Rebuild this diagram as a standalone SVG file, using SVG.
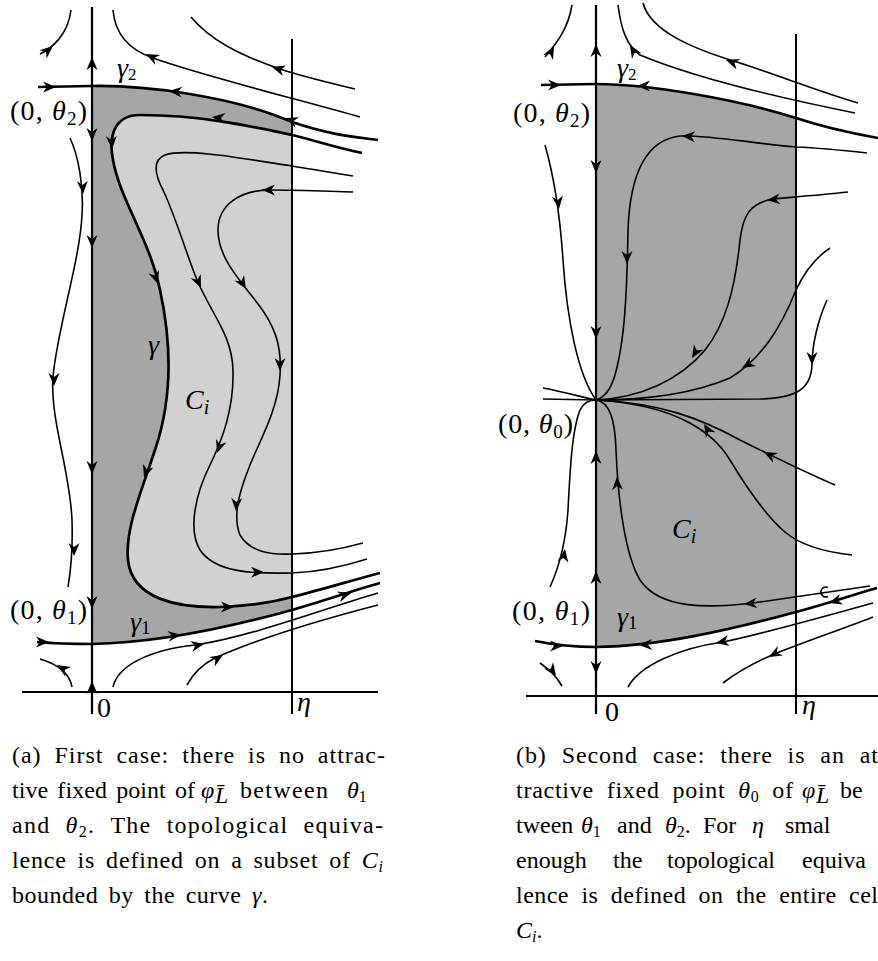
<svg xmlns="http://www.w3.org/2000/svg" width="878" height="961" viewBox="0 0 878 961">
<style>
.ax{stroke:#000;stroke-width:2.2;fill:none}
.eta{stroke:#000;stroke-width:2;fill:none}
.tr{stroke:#000;stroke-width:1.6;fill:none}
.tk{stroke:#000;stroke-width:2.7;fill:none}
.dark{fill:#a6a6a6}
.light{fill:#d1d1d1}
.lbl{font-family:"Liberation Serif","Times New Roman",serif;font-size:28px;fill:#000}
.cap{font-family:"Liberation Serif","Times New Roman",serif;font-size:24px;fill:#000}
.it{font-style:italic}
</style>
<defs>
<path id="ah" d="M0,0 L-13,-5.5 L-9,0 L-13,5.5 Z" fill="#000"/>
</defs>

<g id="panel-a">
 <g id="a-regions">
  <path class="dark" d="M92,86 C140,85 230,95 292,122 L292,610 C220,630 150,643 92,644 Z"/>
  <path class="light" d="M292,135 C250,126 200,115 140,115 C115,115 108,135 113,160 C120,200 150,240 160,290 C172,345 172,400 155,450 C140,495 125,530 128,560 C132,600 180,608 220,607 C250,606 270,603 292,597 Z"/>
 </g>
 <g id="a-axes">
  <path class="ax" d="M92,7 V714"/>
  <path class="ax" d="M22,692 H378"/>
  <path class="eta" d="M292,39 V714"/>
 </g>
 <g id="a-connectors">
  <path class="tk" d="M38,87 L92,86 C140,85 230,95 292,122 C330,135 355,137 378,140"/>
  <path class="tk" d="M37,642 C60,644 80,644 92,644 C150,643 220,630 292,610 C330,599 355,590 380,583"/>
  <path class="tk" d="M362,153 C330,146 310,139 292,135 C250,126 200,115 140,115 C115,115 108,135 113,160 C120,200 150,240 160,290 C172,345 172,400 155,450 C140,495 125,530 128,560 C132,600 180,608 220,607 C250,606 270,603 292,597 C320,590 350,581 380,573"/>
  <path class="tr" d="M40,54 C52,48 68,35 71,10"/>
  <path class="tr" d="M113,10 C115,35 130,50 153,58 C200,75 300,100 360,117"/>
  <path class="tr" d="M191,17 C210,40 240,55 277,68 C300,76 330,83 355,89"/>
  <path class="tr" d="M353,176 C330,172 310,169 292,166 C240,158 185,148 165,155 C152,160 155,175 163,190 C175,215 185,250 197,280 C212,315 232,335 233,370 C234,410 222,440 210,465 C195,495 188,530 200,550 C215,572 250,574 292,573 C320,572 345,566 367,559"/>
  <path class="tr" d="M353,192 C320,191 300,190 270,190 C240,190 218,205 218,230 C218,255 235,275 255,300 C275,325 282,345 280,375 C278,410 260,440 250,465 C240,490 232,515 240,535 C250,552 270,555 293,554 C320,553 345,548 363,543"/>
  <path class="tr" d="M70,138 C78,155 84,185 82,215 C80,260 57,330 53,377 C50,420 70,470 72,520 C73,550 70,575 68,587"/>
  <path class="tr" d="M72,687 C70,675 60,665 40,659"/>
  <path class="tr" d="M113,687 C118,665 150,650 195,645 C250,637 320,610 378,593"/>
  <path class="tr" d="M187,685 C195,670 205,663 215,658 C260,638 320,620 378,605"/>
 </g>
 <g id="a-arrows">
  <use href="#ah" transform="translate(92,57) rotate(-90)"/>
  <use href="#ah" transform="translate(92,141) rotate(90)"/>
  <use href="#ah" transform="translate(92,248) rotate(90)"/>
  <use href="#ah" transform="translate(92,474) rotate(90)"/>
  <use href="#ah" transform="translate(92,609) rotate(90)"/>
  <use href="#ah" transform="translate(92,681) rotate(-90)"/>
  <use href="#ah" transform="translate(56,87) rotate(0)"/>
  <use href="#ah" transform="translate(169,91) rotate(185)"/>
  <use href="#ah" transform="translate(285,118) rotate(200)"/>
  <use href="#ah" transform="translate(53,46) rotate(-40)"/>
  <use href="#ah" transform="translate(146,54) rotate(207)"/>
  <use href="#ah" transform="translate(272,67) rotate(197)"/>
  <use href="#ah" transform="translate(212,117) rotate(186)"/>
  <use href="#ah" transform="translate(112,149) rotate(87)"/>
  <use href="#ah" transform="translate(158,284) rotate(71)"/>
  <use href="#ah" transform="translate(144,478) rotate(109)"/>
  <use href="#ah" transform="translate(234,607) rotate(0)"/>
  <use href="#ah" transform="translate(201,288) rotate(66)"/>
  <use href="#ah" transform="translate(217,453) rotate(109)"/>
  <use href="#ah" transform="translate(264,572) rotate(-1)"/>
  <use href="#ah" transform="translate(262,190) rotate(180)"/>
  <use href="#ah" transform="translate(246,289) rotate(59)"/>
  <use href="#ah" transform="translate(280,371) rotate(90)"/>
  <use href="#ah" transform="translate(236,511) rotate(93)"/>
  <use href="#ah" transform="translate(83,194) rotate(87)"/>
  <use href="#ah" transform="translate(54,386) rotate(90)"/>
  <use href="#ah" transform="translate(74,556) rotate(90)"/>
  <use href="#ah" transform="translate(57,665) rotate(211)"/>
  <use href="#ah" transform="translate(49,642) rotate(0)"/>
  <use href="#ah" transform="translate(181,635) rotate(-6)"/>
  <use href="#ah" transform="translate(351,593) rotate(-17)"/>
  <use href="#ah" transform="translate(204,644) rotate(-11)"/>
  <use href="#ah" transform="translate(223,655) rotate(-31)"/>
 </g>
 <g id="a-labels">
  <text class="lbl" x="10" y="120" textLength="77" lengthAdjust="spacing">(0, <tspan class="it">θ</tspan><tspan font-size="19" dy="5">2</tspan><tspan dy="-5">)</tspan></text>
  <text class="lbl" x="10" y="619" textLength="77" lengthAdjust="spacing">(0, <tspan class="it">θ</tspan><tspan font-size="19" dy="5">1</tspan><tspan dy="-5">)</tspan></text>
  <text class="lbl it" x="117" y="77" font-size="23">γ<tspan font-style="normal" font-size="17" dy="3">2</tspan></text>
  <text class="lbl it" x="130" y="631" font-size="27">γ<tspan font-style="normal" font-size="19" dy="3">1</tspan></text>
  <text class="lbl it" x="148" y="354">γ</text>
  <text class="lbl it" x="185" y="409" font-size="30">C<tspan font-size="20" dy="5">i</tspan></text>
  <text class="lbl" x="97" y="717">0</text>
  <text class="lbl it" x="297" y="711">η</text>
 </g>
</g>

<g id="panel-b">
 <g id="b-regions">
  <path class="dark" d="M596,84 C650,84 740,100 796,118 L796,612 C730,630 660,646 596,647 Z"/>
 </g>
 <g id="b-axes">
  <path class="ax" d="M596,5 V714"/>
  <path class="ax" d="M526,696 H878"/>
  <path class="eta" d="M796,34 V714"/>
 </g>
 <g id="b-connectors">
  <path class="tk" d="M541,85 L596,84 C650,84 740,100 796,118 C820,126 850,133 878,138"/>
  <path class="tk" d="M535,641 C560,646 580,647 596,647 C660,646 730,630 796,612 C830,603 855,594 877,588"/>
  <path class="tr" d="M545,57 C555,45 568,30 572,5"/>
  <path class="tr" d="M618,5 C621,28 626,45 640,55 C700,80 790,100 855,113"/>
  <path class="tr" d="M643,3 C650,30 690,48 737,62 C780,76 820,92 858,103"/>
  <path class="tr" d="M867,153 C840,150 820,148 796,147 C750,143 710,135 680,136 C645,140 630,175 628,230 C627,290 625,340 615,375 C610,392 603,398 596,400"/>
  <path class="tr" d="M848,192 C820,195 795,197 773,199 C750,203 743,215 740,240 C735,290 725,325 705,350 C680,380 640,398 596,400"/>
  <path class="tr" d="M830,248 C815,258 803,275 796,290 C780,330 760,360 730,378 C690,395 640,400 596,400"/>
  <path class="tr" d="M827,300 C818,320 812,345 812,365 C811,390 795,398 760,399 L596,400"/>
  <path class="tr" d="M543,399 L596,400"/>
  <path class="tr" d="M543,388 C565,392 585,398 596,400"/>
  <path class="tr" d="M545,145 C555,180 560,215 563,260 C567,320 578,375 596,400"/>
  <path class="tr" d="M550,587 C560,565 566,540 568,510 C570,470 572,430 580,410 C584,402 590,400 596,400"/>
  <path class="tr" d="M870,586 C840,590 800,596 753,603 C710,608 660,610 640,580 C625,555 618,500 616,450 C615,420 610,402 596,400"/>
  <path class="tr" d="M852,555 C825,552 800,545 785,532 C765,515 745,485 730,460 C715,435 680,405 596,400"/>
  <path class="tr" d="M835,485 C800,470 770,455 740,440 C700,418 660,403 596,400"/>
  <path class="tr" d="M628,687 C640,665 680,648 723,642 C770,632 830,615 873,603"/>
  <path class="tr" d="M723,683 C740,670 760,660 777,653 C810,640 845,628 873,617"/>
  <path class="tr" d="M540,663 C550,670 557,677 562,686"/>
  <path class="tr" stroke-width="2.2" d="M828,587.5 A5,5 0 1 0 828,596.5"/>
 </g>
 <g id="b-arrows">
  <use href="#ah" transform="translate(596,44) rotate(-90)"/>
  <use href="#ah" transform="translate(596,173) rotate(90)"/>
  <use href="#ah" transform="translate(596,339) rotate(90)"/>
  <use href="#ah" transform="translate(596,451) rotate(-90)"/>
  <use href="#ah" transform="translate(596,571) rotate(-90)"/>
  <use href="#ah" transform="translate(596,674) rotate(90)"/>
  <use href="#ah" transform="translate(561,85) rotate(0)"/>
  <use href="#ah" transform="translate(637,86) rotate(180)"/>
  <use href="#ah" transform="translate(554,46) rotate(-63)"/>
  <use href="#ah" transform="translate(630,45) rotate(239)"/>
  <use href="#ah" transform="translate(726,60) rotate(199)"/>
  <use href="#ah" transform="translate(682,136) rotate(183)"/>
  <use href="#ah" transform="translate(627,264) rotate(90)"/>
  <use href="#ah" transform="translate(767,200) rotate(175)"/>
  <use href="#ah" transform="translate(692,358) rotate(121)"/>
  <use href="#ah" transform="translate(742,368) rotate(149)"/>
  <use href="#ah" transform="translate(812,365) rotate(90)"/>
  <use href="#ah" transform="translate(559,209) rotate(83)"/>
  <use href="#ah" transform="translate(565,549) rotate(-81)"/>
  <use href="#ah" transform="translate(617,477) rotate(-92)"/>
  <use href="#ah" transform="translate(744,604) rotate(175)"/>
  <use href="#ah" transform="translate(829,603) rotate(163)"/>
  <use href="#ah" transform="translate(639,645) rotate(178)"/>
  <use href="#ah" transform="translate(563,646) rotate(0)"/>
  <use href="#ah" transform="translate(704,424) rotate(239)"/>
  <use href="#ah" transform="translate(764,452) rotate(207)"/>
  <use href="#ah" transform="translate(716,643) rotate(169)"/>
  <use href="#ah" transform="translate(769,657) rotate(151)"/>
  <use href="#ah" transform="translate(556,676) rotate(55)"/>
 </g>
 <g id="b-labels">
  <text class="lbl" x="513" y="122" textLength="77" lengthAdjust="spacing">(0, <tspan class="it">θ</tspan><tspan font-size="19" dy="5">2</tspan><tspan dy="-5">)</tspan></text>
  <text class="lbl" x="498" y="433" textLength="75" lengthAdjust="spacing">(0, <tspan class="it">θ</tspan><tspan font-size="19" dy="5">0</tspan><tspan dy="-5">)</tspan></text>
  <text class="lbl" x="512" y="620" textLength="78" lengthAdjust="spacing">(0, <tspan class="it">θ</tspan><tspan font-size="19" dy="5">1</tspan><tspan dy="-5">)</tspan></text>
  <text class="lbl it" x="617" y="77" font-size="23">γ<tspan font-style="normal" font-size="17" dy="3">2</tspan></text>
  <text class="lbl it" x="617" y="626" font-size="27">γ<tspan font-style="normal" font-size="19" dy="3">1</tspan></text>
  <text class="lbl it" x="672" y="538" font-size="30">C<tspan font-size="20" dy="5">i</tspan></text>
  <text class="lbl" x="605" y="721">0</text>
  <text class="lbl it" x="802" y="714">η</text>
 </g>
</g>

<g id="caption-a">
 <text class="cap" x="12" y="762.5" word-spacing="6" textLength="373" lengthAdjust="spacing">(a) First case: there is no attrac-</text>
 <text class="cap" x="12" y="797.5" word-spacing="3" textLength="183" lengthAdjust="spacing">tive fixed point of</text>
 <text class="cap it" x="201" y="797.5">φ</text>
 <text class="cap it" x="215" y="803" font-size="16">L̄</text>
 <text class="cap" x="240" y="797.5" textLength="88" lengthAdjust="spacing">between</text>
 <text class="cap it" x="347" y="797.5">θ<tspan font-style="normal" font-size="16" dy="4">1</tspan></text>
 <text class="cap" x="12" y="832.5" word-spacing="8" textLength="371" lengthAdjust="spacing">and <tspan class="it">θ</tspan><tspan font-size="16" dy="4">2</tspan><tspan dy="-4">. The topological equiva-</tspan></text>
 <text class="cap" x="12" y="867.5" word-spacing="4" textLength="371" lengthAdjust="spacing">lence is defined on a subset of <tspan class="it">C</tspan><tspan class="it" font-size="16" dy="4">i</tspan></text>
 <text class="cap" x="12" y="902.5" word-spacing="4" textLength="256" lengthAdjust="spacing">bounded by the curve <tspan class="it">γ</tspan>.</text>
</g>

<g id="caption-b">
 <text class="cap" x="516" y="762.5" word-spacing="8" textLength="362" lengthAdjust="spacing">(b) Second case: there is an at</text>
 <text class="cap" x="516" y="797.5" word-spacing="6" textLength="277" lengthAdjust="spacing">tractive fixed point <tspan class="it">θ</tspan><tspan font-size="16" dy="4">0</tspan><tspan dy="-4"> of</tspan></text>
 <text class="cap it" x="802" y="797.5">φ</text>
 <text class="cap it" x="816" y="803" font-size="16">L̄</text>
 <text class="cap" x="840" y="797.5">be</text>
 <text class="cap" y="832.5"><tspan x="516">tween</tspan><tspan x="581" class="it">θ</tspan><tspan font-size="16" dy="4">1</tspan><tspan x="617" dy="-4">and</tspan><tspan x="665" class="it">θ</tspan><tspan font-size="16" dy="4">2</tspan><tspan dy="-4">.</tspan><tspan x="703">For</tspan><tspan x="752" class="it">η</tspan><tspan x="785">smal</tspan></text>
 <text class="cap" y="867.5"><tspan x="516">enough</tspan><tspan x="613">the</tspan><tspan x="667">topological</tspan><tspan x="802">equiva</tspan></text>
 <text class="cap" x="516" y="902.5" word-spacing="6" textLength="362" lengthAdjust="spacing">lence is defined on the entire cel</text>
 <text class="cap" x="516" y="937.5"><tspan class="it">C</tspan><tspan class="it" font-size="16" dy="4">i</tspan><tspan dy="-4">.</tspan></text>
</g>
</svg>
